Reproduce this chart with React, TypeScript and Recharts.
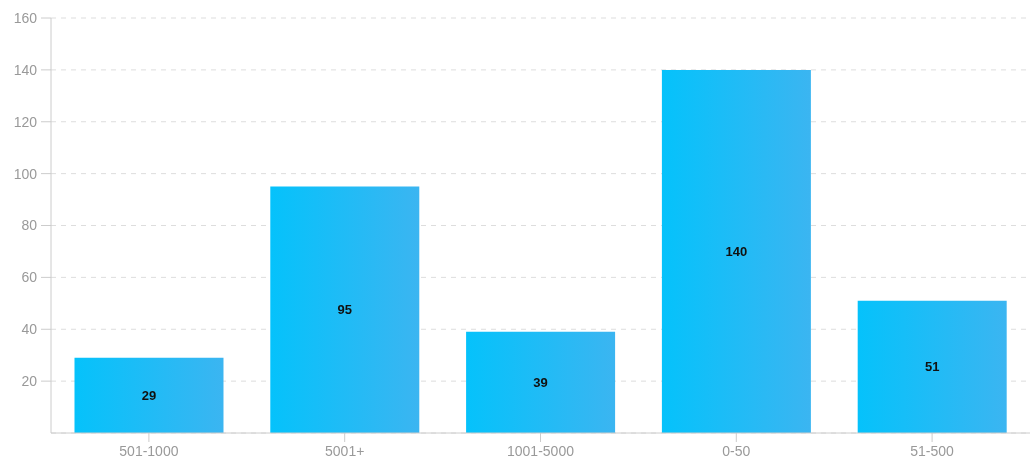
import { Bar, BarChart, CartesianGrid, LabelList, XAxis, YAxis } from "recharts";

const categories = ["501-1000", "5001+", "1001-5000", "0-50", "51-500"];
const counts = [29, 95, 39, 140, 51];
const yTicks = [20, 40, 60, 80, 100, 120, 140, 160];

const data = categories.map((name, i) => ({ name, value: counts[i] }));

export default function App() {
  return (
    <div style={{ position: "fixed", left: 0, top: 0, fontFamily: "Arial, 'Liberation Sans', sans-serif" }}>
      <BarChart
        width={1030}
        height={468}
        data={data}
        margin={{ top: 18, right: 0, left: 0, bottom: 0 }}
        barCategoryGap="12%"
      >
        <defs>
          <linearGradient id="barFill" x1="0" y1="0" x2="1" y2="0">
            <stop offset="0%" stopColor="#05c2fb" />
            <stop offset="100%" stopColor="#3bb5f1" />
          </linearGradient>
        </defs>
        <CartesianGrid vertical={false} stroke="#dddddd" strokeDasharray="5 5" />
        <XAxis
          dataKey="name"
          height={35}
          stroke="#cccccc"
          tick={{ fill: "#999999", fontSize: 14 }}
          tickSize={9}
          tickMargin={4}
        />
        <YAxis
          width={51}
          domain={[0, 160]}
          ticks={yTicks}
          stroke="#cccccc"
          tick={{ fill: "#999999", fontSize: 14 }}
          tickSize={10}
          tickMargin={4}
        />
        <Bar dataKey="value" fill="url(#barFill)" isAnimationActive={false}>
          <LabelList dataKey="value" position="center" fill="#111111" fontSize={13} fontWeight="bold" />
        </Bar>
      </BarChart>
    </div>
  );
}
